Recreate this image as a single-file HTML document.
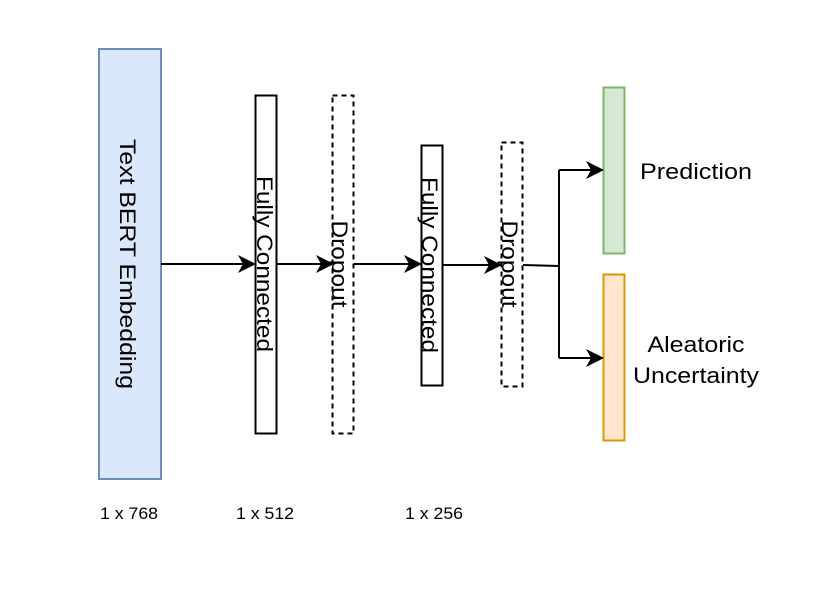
<!DOCTYPE html>
<html><head><meta charset="utf-8"><style>
html,body{margin:0;padding:0;background:#fff;}
svg{display:block;}
text{font-family:"Liberation Sans",Arial,sans-serif;fill:#000;}
</style></head><body>
<svg width="831" height="592" viewBox="0 0 831 592" xmlns="http://www.w3.org/2000/svg">
<!-- boxes -->
<rect x="99" y="49" width="62" height="430" fill="#dae8fc" stroke="#6c8ebf" stroke-width="2"/>
<rect x="255.5" y="95.5" width="21" height="338" fill="#fff" stroke="#000" stroke-width="2"/>
<rect x="332.5" y="95.5" width="21" height="338" fill="#fff" stroke="#000" stroke-width="2" stroke-dasharray="5 4"/>
<rect x="421.5" y="145.5" width="21" height="240" fill="#fff" stroke="#000" stroke-width="2"/>
<rect x="501.5" y="142.5" width="21" height="244" fill="#fff" stroke="#000" stroke-width="2" stroke-dasharray="5 4"/>
<rect x="603.5" y="87.5" width="21" height="166" fill="#d5e8d4" stroke="#82b366" stroke-width="2"/>
<rect x="603.5" y="274.5" width="21" height="166" fill="#ffe6cc" stroke="#d79b00" stroke-width="2"/>

<!-- connectors -->
<g stroke="#000" stroke-width="2" fill="none">
<path d="M161 264 H246"/>
<path d="M277 264 H323"/>
<path d="M354 264 H412"/>
<path d="M443 265 H492"/>
<path d="M523 265 L559 266 M559 170 V358 M559 170 H594 M559 358 H594"/>
</g>
<g fill="#000">
<path d="M256 264 L238 255 L243 264 L238 273 Z"/>
<path d="M334 264 L316 255 L321 264 L316 273 Z"/>
<path d="M422 264 L404 255 L409 264 L404 273 Z"/>
<path d="M502 265 L484 256 L489 265 L484 274 Z"/>
<path d="M604 170 L586 161 L591 170 L586 179 Z"/>
<path d="M604 358 L586 349 L591 358 L586 367 Z"/>
</g>

<!-- rotated labels -->
<text x="120" y="264" font-size="22" text-anchor="middle" textLength="250" lengthAdjust="spacingAndGlyphs" transform="rotate(90 120 264)">Text BERT Embedding</text>
<text x="257" y="264" font-size="22" text-anchor="middle" textLength="176" lengthAdjust="spacingAndGlyphs" transform="rotate(90 257 264)">Fully Connected</text>
<text x="332" y="264" font-size="22" text-anchor="middle" textLength="87" lengthAdjust="spacingAndGlyphs" transform="rotate(90 332 264)">Dropout</text>
<text x="422" y="265" font-size="22" text-anchor="middle" textLength="176" lengthAdjust="spacingAndGlyphs" transform="rotate(90 422 265)">Fully Connected</text>
<text x="502" y="264" font-size="22" text-anchor="middle" textLength="87" lengthAdjust="spacingAndGlyphs" transform="rotate(90 502 264)">Dropout</text>

<text x="696" y="179" font-size="22" text-anchor="middle" textLength="112" lengthAdjust="spacingAndGlyphs">Prediction</text>
<text x="696" y="352" font-size="22" text-anchor="middle" textLength="97" lengthAdjust="spacingAndGlyphs">Aleatoric</text>
<text x="696" y="383" font-size="22" text-anchor="middle" textLength="126" lengthAdjust="spacingAndGlyphs">Uncertainty</text>

<text x="129" y="519" font-size="17" text-anchor="middle" textLength="58" lengthAdjust="spacingAndGlyphs">1 x 768</text>
<text x="265" y="519" font-size="17" text-anchor="middle" textLength="58" lengthAdjust="spacingAndGlyphs">1 x 512</text>
<text x="434" y="519" font-size="17" text-anchor="middle" textLength="58" lengthAdjust="spacingAndGlyphs">1 x 256</text>
</svg>
</body></html>
